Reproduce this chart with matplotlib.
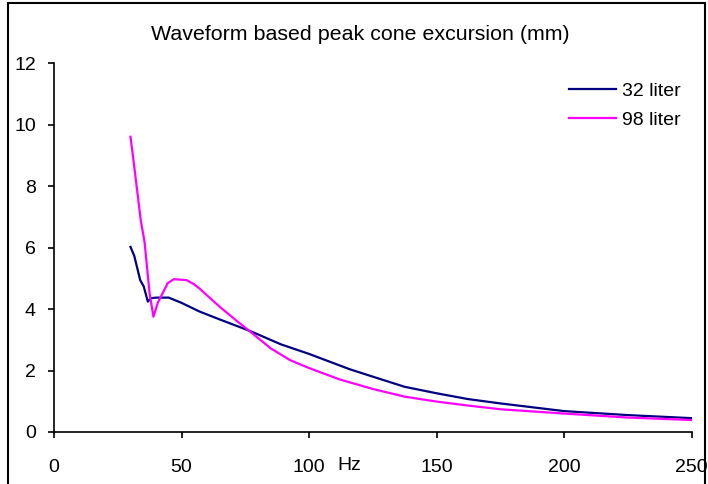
import matplotlib.pyplot as plt
from matplotlib.patches import Rectangle

plt.rcParams['font.family'] = ['Liberation Sans', 'DejaVu Sans']

# 32 liter enclosure
freq_32 = [30, 31.5, 33.8, 35.2, 36.8, 38, 40, 45, 50, 57, 65, 77, 89, 100,
           116, 125, 137.5, 150, 162.4, 175, 200, 225, 250]
exc_32 = [6.02, 5.72, 4.94, 4.73, 4.24, 4.35, 4.37, 4.37, 4.2, 3.92, 3.66, 3.28,
          2.85, 2.54, 2.04, 1.8, 1.47, 1.26, 1.07, 0.93, 0.68, 0.55, 0.45]

# 98 liter enclosure
freq_98 = [30, 31, 34, 35.5, 37.5, 39, 40.7, 44.6, 47, 52, 55, 57, 65, 71, 77,
           85, 92.5, 100, 112, 125, 137.5, 150, 162.4, 175, 200, 225, 250]
exc_98 = [9.6, 8.95, 6.9, 6.19, 4.5, 3.75, 4.2, 4.84, 4.97, 4.94, 4.8, 4.67, 4.07,
          3.66, 3.26, 2.72, 2.34, 2.08, 1.71, 1.4, 1.15, 0.99, 0.86, 0.74, 0.6,
          0.47, 0.39]

x_ticks = [0, 50, 100, 150, 200, 250]
y_ticks = [0, 2, 4, 6, 8, 10, 12]

fig = plt.figure(figsize=(7.08, 4.84), dpi=100)
ax = fig.add_axes([54 / 708, 1 - 432 / 484, (691.5 - 54) / 708, (432 - 63) / 484])

ax.plot(freq_32, exc_32, color='#000080', lw=1.6, label='32 liter')
ax.plot(freq_98, exc_98, color='#FF00FF', lw=1.6, label='98 liter')

ax.set_xlim(0, 250)
ax.set_ylim(0, 12)
ax.set_xticks(x_ticks)
ax.set_yticks(y_ticks)
ax.tick_params(labelsize=14, length=4.5, width=1.2)
ax.tick_params(axis='x', pad=15)
ax.tick_params(axis='y', pad=8.5)
for s in ['top', 'right']:
    ax.spines[s].set_visible(False)
for s in ['left', 'bottom']:
    ax.spines[s].set_linewidth(1.2)

fig.text(337 / 708, 1 - 465 / 484, 'Hz', fontsize=14, va='center', ha='left')
fig.text(360 / 708, 1 - 35 / 484, 'Waveform based peak cone excursion (mm)',
         fontsize=15.4, ha='center', va='center')

ax.legend(loc='upper right', bbox_to_anchor=(1.01, 0.995), frameon=False,
          fontsize=14, handlelength=2.4, handletextpad=0.3, labelspacing=0.6)

fig.patches.append(Rectangle((8 / 708, -0.1), 697 / 708, 1.1 - 3 / 484,
                             transform=fig.transFigure, fill=False,
                             edgecolor='black', lw=1.5))

fig.savefig('out.png', dpi=100)
